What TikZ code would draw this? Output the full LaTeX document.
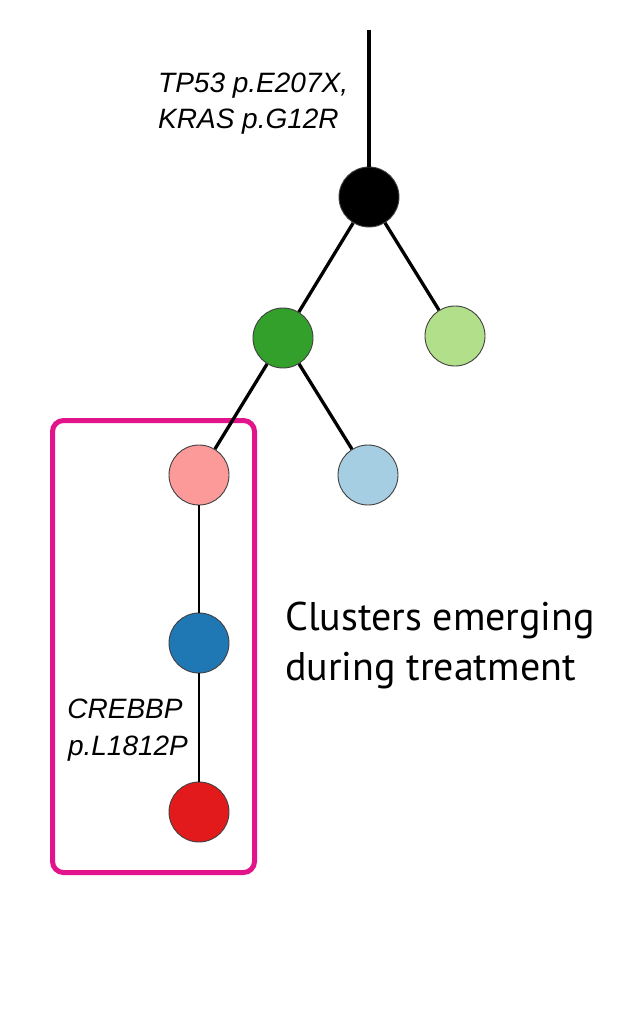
\documentclass[tikz,border=0pt]{standalone}
\usepackage{fontspec}
\setmainfont{Liberation Sans}
\newfontfamily\labelfont{PT Sans}
\begin{document}
\begin{tikzpicture}[x=1pt,y=-1pt,
  clone/.style={circle, draw=black!75, line width=0.9pt, minimum size=60pt, inner sep=0pt},
  edge/.style={line width=3.3pt, black},
  thinedge/.style={line width=2.5pt, black},
  mut/.style={font=\fontsize{28}{28}\selectfont\itshape, inner sep=0pt},
  big/.style={font=\labelfont\fontsize{40}{40}\selectfont, inner sep=0pt, anchor=base west}
]
\definecolor{cblack}{HTML}{000000}
\definecolor{cgreen}{HTML}{33A02C}
\definecolor{clgreen}{HTML}{B2DF8A}
\definecolor{cpink}{HTML}{FB9A99}
\definecolor{clblue}{HTML}{A6CEE3}
\definecolor{cblue}{HTML}{1F78B4}
\definecolor{cred}{HTML}{E31A1C}
\definecolor{cmag}{HTML}{E2148C}
\useasboundingbox[fill=white] (0,0) rectangle (621,1016);

% box
\node[draw=cmag, line width=5pt, rounded corners=11pt, minimum width=202pt, minimum height=452pt, inner sep=0pt] (box) at (153.5,646.5) {};

\coordinate (top) at (369,30);
\node[clone, fill=cblack] (n0) at (369,197) {};
\node[clone, fill=cgreen] (n1) at (283,338) {};
\node[clone, fill=clgreen] (n2) at (455,336) {};
\node[clone, fill=cpink] (n3) at (199,475) {};
\node[clone, fill=clblue] (n4) at (368,475) {};
\node[clone, fill=cblue] (n5) at (199,643) {};
\node[clone, fill=cred] (n6) at (199,812) {};

\draw[edge] (top) -- (n0);
\draw[edge] (n0) -- (n1);
\draw[edge] (n0) -- (n2);
\draw[edge] (n1) -- (n3);
\draw[edge] (n1) -- (n4);
\draw[thinedge] (n3) -- (n5);
\draw[thinedge] (n5) -- (n6);

\node[mut, anchor=base west] (t1) at (158,93) {TP53 p.E207X,};
\node[mut, anchor=base west] (t2) at (158,129) {KRAS p.G12R};
\node[mut, anchor=base] (t3) at (125,718) {CREBBP};
\node[mut, anchor=base] (t4) at (128,755) {p.L1812P};

\node[big] (c1) at (285,630) {Clusters emerging};
\node[big] (c2) at (285,680) {during treatment};
\end{tikzpicture}
\end{document}
